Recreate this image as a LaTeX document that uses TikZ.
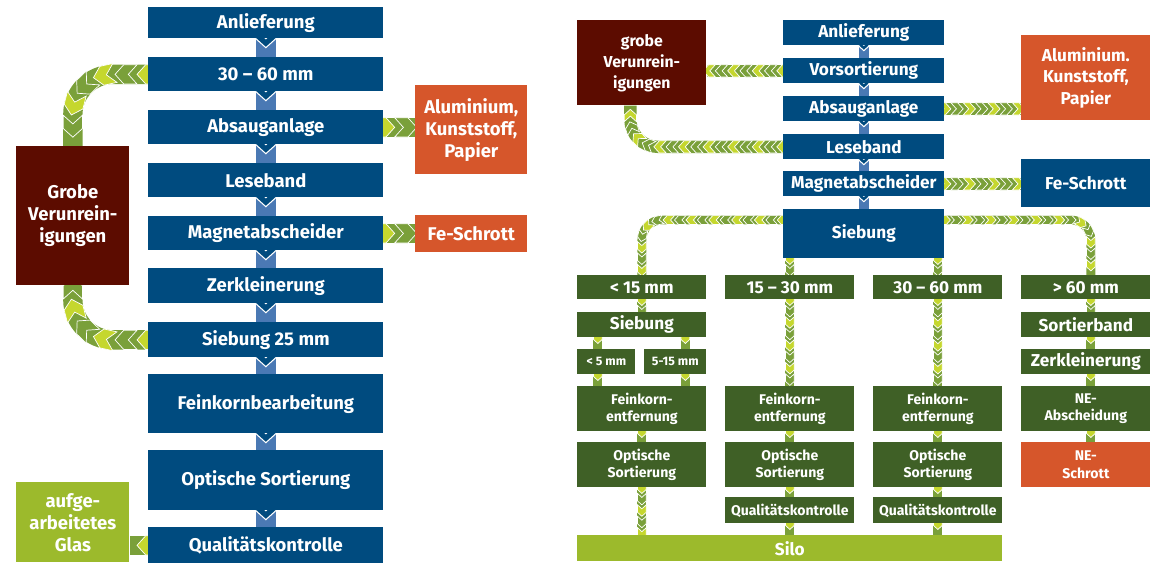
\documentclass[tikz,border=0pt]{standalone}
\usepackage{fontspec}
\setmainfont{Fira Sans}
\usetikzlibrary{decorations.markings}
\usetikzlibrary{backgrounds}
\definecolor{boxblue}{RGB}{0,75,127}
\definecolor{linkblue}{RGB}{74,121,180}
\definecolor{maroon}{RGB}{92,12,0}
\definecolor{rust}{RGB}{214,86,43}
\definecolor{forest}{RGB}{63,96,38}
\definecolor{moss}{RGB}{156,186,44}
\definecolor{sprout}{RGB}{197,215,46}
\definecolor{leaf}{RGB}{122,160,58}

\begin{document}
\begin{tikzpicture}[x=0.02cm, y=-0.02cm,
  box/.style={anchor=north west, inner sep=0pt, text=white, align=center},
  sz/.style 2 args={minimum width=#1*0.02cm, minimum height=#2*0.02cm},
  bbox/.style={box, fill=boxblue},
  gbox/.style={box, fill=forest},
  rbox/.style={box, fill=maroon},
  obox/.style={box, fill=rust},
  mbox/.style={box, fill=moss},
  fL/.style={font=\fontsize{10.5}{12.5}\selectfont\bfseries},
  fR/.style={font=\fontsize{9.8}{12}\selectfont\bfseries},
  fQ/.style={font=\fontsize{9}{12}\selectfont\bfseries},
  fS/.style={font=\fontsize{8}{10}\selectfont\bfseries},
  fT/.style={font=\fontsize{7}{8}\selectfont\bfseries},
  chevband/.style n args={4}{draw=#4, line width=#1, postaction={decorate}, decoration={markings,
    mark=between positions 0 and 1 step #2 with {
      \pgfmathtruncatemacro\chn{\pgfkeysvalueof{/pgf/decoration/mark info/sequence number}}
      \ifodd\chn \def\chcol{#3}\else \def\chcol{#4}\fi
      \filldraw[sharp corners, fill=\chcol, draw=white, line width=0.4pt]
        ({-#2/2},{#1/2}) -- ({#2/2-0.45*#1},{#1/2}) -- ({#2/2},0pt)
        -- ({#2/2-0.45*#1},{-#1/2}) -- ({-#2/2},{-#1/2}) -- ({-#2/2+0.45*#1},0pt) -- cycle;
    }}},
  bigband/.style={chevband={11pt}{12.5pt}{sprout}{leaf}},
  midband/.style={chevband={7pt}{7pt}{sprout}{leaf}},
  smallband/.style={chevband={5pt}{6.5pt}{sprout}{leaf}},
  bluelink/.style 2 args={draw=linkblue, line width=#1, postaction={decorate},
    decoration={markings, mark=at position 0 with {
      \filldraw[sharp corners, fill=boxblue, draw=white, line width=0.6pt]
        ({-#2/2},{#1/2}) -- ({#2/2-0.45*#1},{#1/2}) -- ({#2/2},0pt)
        -- ({#2/2-0.45*#1},{-#1/2}) -- ({-#2/2},{-#1/2}) -- ({-#2/2+0.45*#1},0pt) -- cycle;
    }}}]
\useasboundingbox (0,0) rectangle (1166,576);

\node[bbox, sz={235}{31}, fL] (anlL) at (148,7) {Anlieferung};
\node[bbox, sz={235}{34}, fL] (sizeL) at (148,57) {30 – 60 mm};
\node[bbox, sz={235}{34}, fL] (absL) at (148,110) {Absauganlage};
\node[bbox, sz={235}{34}, fL] (lesL) at (148,163) {Leseband};
\node[bbox, sz={235}{34}, fL] (magL) at (148,216) {Magnetabscheider};
\node[bbox, sz={235}{35}, fL] (zerL) at (148,268) {Zerkleinerung};
\node[bbox, sz={235}{35}, fL] (siebL) at (148,322) {Siebung 25 mm};
\node[bbox, sz={235}{59}, fL] (feinL) at (148,374) {Feinkornbearbeitung};
\node[bbox, sz={235}{60}, fL] (optL) at (148,450) {Optische Sortierung};
\node[bbox, sz={235}{36}, fL] (qualL) at (148,527) {Qualitätskontrolle};
\node[rbox, sz={113}{139}, fL] (grobeL) at (16,146) {Grobe\\Verunrein-\\igungen};
\node[obox, sz={112}{89}, fL] (aluL) at (415,85) {Aluminium,\\Kunststoff,\\Papier};
\node[obox, sz={112}{37}, fL] (feL) at (415,215) {Fe-Schrott};
\node[mbox, sz={113}{80}, fL] (glasL) at (16,482) {aufge-\\arbeitetes\\Glas};

\node[bbox, sz={161}{25}, fR] (anlR) at (783,20) {Anlieferung};
\node[bbox, sz={161}{25}, fR] (vorR) at (783,58) {Vorsortierung};
\node[bbox, sz={161}{25}, fR] (absR) at (783,96) {Absauganlage};
\node[bbox, sz={161}{25}, fR] (lesR) at (783,134) {Leseband};
\node[bbox, sz={161}{25}, fR] (magR) at (783,171) {Magnetabscheider};
\node[bbox, sz={161}{49}, fR] (siebR) at (783,209) {Siebung};
\node[rbox, sz={129}{85}, fQ] (grobeR) at (577,20) {grobe\\Verunrein-\\igungen};
\node[obox, sz={129}{85}, fR] (aluR) at (1021,35) {Aluminium.\\Kunststoff,\\Papier};
\node[bbox, sz={129}{48}, fR] (feR) at (1021,159) {Fe-Schrott};

\node[gbox, sz={129}{24}, fR] (lt15) at (577,275) {< 15 mm};
\node[gbox, sz={129}{25}, fR] (siebC) at (577,312) {Siebung};
\node[gbox, sz={58}{25}, fT] (lt5) at (577,349) {< 5 mm};
\node[gbox, sz={62}{25}, fT] (m515) at (644,349) {5-15 mm};
\node[gbox, sz={129}{45}, fS] (feinA) at (577,386) {Feinkorn-\\entfernung};
\node[gbox, sz={129}{45}, fS] (optA) at (577,442) {Optische\\Sortierung};

\node[gbox, sz={129}{24}, fR] (s1530) at (725,275) {15 – 30 mm};
\node[gbox, sz={129}{45}, fS] (feinB) at (725,386) {Feinkorn-\\entfernung};
\node[gbox, sz={129}{45}, fS] (optB) at (725,442) {Optische\\Sortierung};
\node[gbox, sz={129}{26}, fS] (qualB) at (725,497) {Qualitätskontrolle};

\node[gbox, sz={129}{24}, fR] (s3060) at (873,275) {30 – 60 mm};
\node[gbox, sz={129}{45}, fS] (feinC) at (873,386) {Feinkorn-\\entfernung};
\node[gbox, sz={129}{45}, fS] (optC) at (873,442) {Optische\\Sortierung};
\node[gbox, sz={129}{26}, fS] (qualC) at (873,497) {Qualitätskontrolle};

\node[gbox, sz={129}{24}, fR] (gt60) at (1021,275) {> 60 mm};
\node[gbox, sz={129}{25}, fR] (sortD) at (1021,312) {Sortierband};
\node[gbox, sz={129}{25}, fR] (zerD) at (1021,349) {Zerkleinerung};
\node[gbox, sz={129}{45}, fS] (neD) at (1021,386) {NE-\\Abscheidung};
\node[obox, sz={129}{45}, fS] (neS) at (1021,442) {NE-\\Schrott};

\node[mbox, sz={425}{26}, fR] (silo) at (577,535) {Silo};

\coordinate (x5) at ([xshift=-0.17cm]lt5.center);
\coordinate (x15) at ([xshift=0.2cm]m515.center);
\coordinate (x60) at ([xshift=0.1cm]gt60.center);
\coordinate (gR) at ([xshift=-0.23cm]grobeR.south);
\coordinate (sL) at ([yshift=-0.22cm]siebR.north west);
\coordinate (sR) at ([yshift=-0.22cm]siebR.north east);
\coordinate (cA) at (grobeL.north |- sizeL.west);
\coordinate (cB) at (grobeL.south |- siebL.west);
\coordinate (cC) at (gR |- lesR.west);
\coordinate (cD) at (lt15.north |- sL);
\coordinate (cE) at (x60 |- sR);

\begin{scope}[on background layer]
\foreach \a/\b in {anlL/sizeL, sizeL/absL, absL/lesL, lesL/magL, magL/zerL, zerL/siebL, siebL/feinL, feinL/optL, optL/qualL}
  \path[bluelink={11.3pt}{10.2pt}] (\a.south) -- (\b.north);
\foreach \a/\b in {anlR/vorR, vorR/absR, absR/lesR, lesR/magR, magR/siebR}
  \path[bluelink={5.7pt}{5.6pt}] (\a.south) -- (\b.north);

\path[bigband] (sizeL.west) -- ([xshift=0.8cm]cA) arc[start angle=90, end angle=180, radius=0.8cm] -- (grobeL.north);
\path[bigband] (siebL.west) -- ([xshift=0.8cm]cB) arc[start angle=-90, end angle=-180, radius=0.8cm] -- (grobeL.south);
\path[bigband] (absL.east) -- (absL.east -| aluL.west);
\path[bigband] (magL.east) -- (magL.east -| feL.west);
\path[bigband] (qualL.west) -- (qualL.west -| glasL.east);

\path[midband] (vorR.west) -- (vorR.west -| grobeR.east);
\path[midband] (lesR.west) -- ([xshift=0.55cm]cC) arc[start angle=-90, end angle=-180, radius=0.55cm] -- (gR);
\path[midband] (absR.east) -- (absR.east -| aluR.west);
\path[midband] (magR.east) -- (magR.east -| feR.west);

\path[smallband] (sL) -- ([xshift=0.4cm]cD) arc[start angle=90, end angle=180, radius=0.4cm] -- (lt15.north);
\path[smallband] (sR) -- ([xshift=-0.4cm]cE) arc[start angle=90, end angle=0, radius=0.4cm] -- (x60 |- gt60.north);
\path[smallband] (s1530.north |- siebR.south) -- (s1530.north);
\path[smallband] (s3060.north |- siebR.south) -- (s3060.north);

\foreach \a/\b in {lt15/siebC, feinA/optA, optA/silo, s1530/feinB, feinB/optB, optB/qualB, qualB/silo, s3060/feinC, feinC/optC, optC/qualC, qualC/silo}
  \path[smallband] (\a.south) -- (\a.south |- \b.north);
\path[smallband] (x5 |- siebC.south) -- (x5 |- lt5.north);
\path[smallband] (x5 |- lt5.south) -- (x5 |- feinA.north);
\path[smallband] (x15 |- siebC.south) -- (x15 |- m515.north);
\path[smallband] (x15 |- m515.south) -- (x15 |- feinA.north);
\foreach \a/\b in {gt60/sortD, sortD/zerD, zerD/neD, neD/neS}
  \path[smallband] (x60 |- \a.south) -- (x60 |- \b.north);
\end{scope}
\end{tikzpicture}
\end{document}
